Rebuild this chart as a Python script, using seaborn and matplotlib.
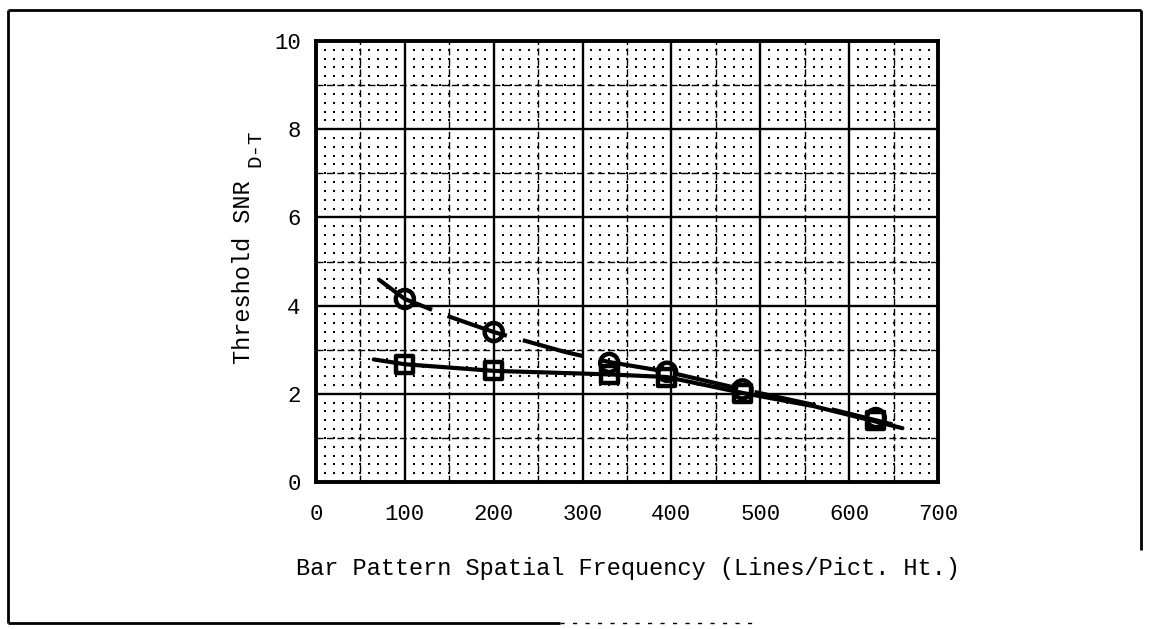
import numpy as np
import matplotlib
matplotlib.use("Agg")
import matplotlib.pyplot as plt
from matplotlib.lines import Line2D
import seaborn as sns

# Threshold SNR measured at each bar-pattern frequency
freq = [100, 200, 330, 395, 480, 630]
snr_dashed = [4.15, 3.40, 2.70, 2.50, 2.10, 1.45]
snr_solid = [2.67, 2.52, 2.44, 2.38, 2.00, 1.40]

# hand-faired curves drawn through each data set
curve_dashed_x = [70, 100, 150, 200, 280, 330, 395, 480, 560, 660]
curve_dashed_y = [4.60, 4.15, 3.75, 3.40, 2.95, 2.72, 2.50, 2.10, 1.75, 1.25]
curve_solid_x = [65, 100, 200, 330, 395, 480, 560, 660]
curve_solid_y = [2.78, 2.67, 2.52, 2.44, 2.38, 2.02, 1.72, 1.22]

x_ticks = [0, 100, 200, 300, 400, 500, 600, 700]
y_ticks = [0, 2, 4, 6, 8, 10]

sns.set_style("white")
plt.rcParams["font.family"] = ["Liberation Mono", "DejaVu Sans Mono"]

W, H = 1151, 629
fig = plt.figure(figsize=(W / 100, H / 100), dpi=100)
fig.patch.set_facecolor("white")


def px(x, y):
    return x / W, 1 - y / H


L, R, T, B = 316, 938, 41, 482
ax = fig.add_axes([L / W, 1 - B / H, (R - L) / W, (B - T) / H])
ax.set_xlim(0, 700)
ax.set_ylim(0, 10)

# graph-paper ruling: dots every 10 x 0.2, light lines every 50 x 1, heavy every 100 x 2
gx, gy = np.meshgrid(np.arange(0, 701, 10), np.arange(0, 10.01, 0.2))
ax.scatter(gx.ravel(), gy.ravel(), s=2.6, marker="s", color="black", linewidths=0, zorder=1)
for xv in np.arange(50, 700, 100):
    ax.axvline(xv, color="black", lw=1.0, ls=(0, (5, 2.5)), zorder=1.5)
for yv in np.arange(1, 10, 2):
    ax.axhline(yv, color="black", lw=1.0, ls=(0, (5, 2.5)), zorder=1.5)
for xv in np.arange(100, 700, 100):
    ax.axvline(xv, color="black", lw=1.7, zorder=2)
for yv in np.arange(2, 10, 2):
    ax.axhline(yv, color="black", lw=1.7, zorder=2)

# faired curves
sns.lineplot(x=curve_dashed_x, y=curve_dashed_y, ax=ax, sort=False, estimator=None,
             color="black", lw=3.0, linestyle=(0, (15, 4)), zorder=3)
sns.lineplot(x=curve_solid_x, y=curve_solid_y, ax=ax, sort=False, estimator=None,
             color="black", lw=3.0, zorder=3)

# data points
sns.scatterplot(x=freq, y=snr_dashed, ax=ax, marker="o", s=170,
                facecolor="none", edgecolor="black", linewidth=3.2, zorder=4)
sns.scatterplot(x=freq, y=snr_solid, ax=ax, marker="s", s=150,
                facecolor="none", edgecolor="black", linewidth=3.2, zorder=4)

ax.set_xticks(x_ticks)
ax.set_yticks(y_ticks)
ax.set_xticklabels([str(v) for v in x_ticks])
ax.set_yticklabels([str(v) for v in y_ticks])
ax.tick_params(axis="x", length=0, pad=16, labelsize=16, colors="black")
ax.tick_params(axis="y", length=5, width=1.6, pad=6, labelsize=16, direction="out",
               colors="black")
for sp in ax.spines.values():
    sp.set_visible(True)
    sp.set_color("black")
    sp.set_linewidth(2.8)
    sp.set_zorder(5)
ax.grid(False)
ax.set_xlabel("")
ax.set_ylabel("")

# axis titles
fig.text(*px(628, 569), "Bar Pattern Spatial Frequency (Lines/Pict. Ht.)",
         ha="center", va="center", fontsize=17, color="black")
fig.text(*px(243, 272), "Threshold SNR", rotation=90,
         ha="center", va="center", fontsize=17, color="black")
fig.text(*px(255, 148), "D-T", rotation=90,
         ha="center", va="center", fontsize=15, color="black")

# outer border of the figure
border = dict(color="black", lw=2.0, transform=fig.transFigure, solid_capstyle="butt")
fig.add_artist(Line2D([8 / W, 8 / W], [1 - 10 / H, 1 - 623 / H], **border))
fig.add_artist(Line2D([8 / W, 1141 / W], [1 - 10 / H, 1 - 10 / H], **border))
fig.add_artist(Line2D([1141 / W, 1141 / W], [1 - 10 / H, 1 - 550 / H], **border))
fig.add_artist(Line2D([8 / W, 560 / W], [1 - 623 / H, 1 - 623 / H], **border))
fig.add_artist(Line2D([560 / W, 760 / W], [1 - 623 / H, 1 - 623 / H], color="black",
                      lw=1.0, ls=(0, (3, 6)), transform=fig.transFigure))

fig.savefig("out.png", dpi=100, facecolor="white")
